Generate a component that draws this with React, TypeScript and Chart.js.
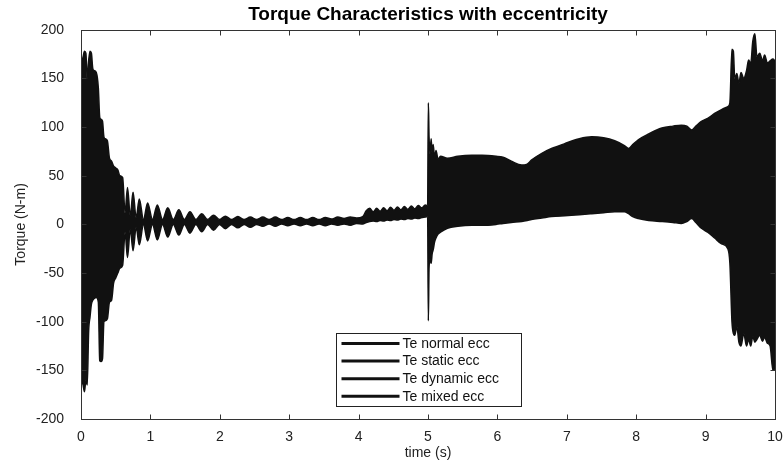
import React, { useEffect, useRef } from "react";
import { Chart, registerables } from "chart.js";

Chart.register(...registerables);

const chartTitle = "Torque Characteristics with eccentricity";
const xTitle = "time (s)";
const yTitle = "Torque (N-m)";
const seriesLabels = ["Te normal ecc", "Te static ecc", "Te dynamic ecc", "Te mixed ecc"];
const xTicks = [0, 1, 2, 3, 4, 5, 6, 7, 8, 9, 10];
const yTicks = [-200, -150, -100, -50, 0, 50, 100, 150, 200];

// time (s) of each envelope reading
const envTime = [
  // start-up transient
  0, 0.01, 0.03, 0.05, 0.07, 0.09, 0.11, 0.13, 0.15, 0.17, 0.19, 0.22, 0.25, 0.27, 0.29, 0.31, 0.33, 0.35, 0.38, 0.41, 0.44, 0.47, 0.5, 0.53, 0.56,
  // decaying beats
  0.6, 0.635, 0.67, 0.71, 0.75, 0.795, 0.84, 0.9, 0.96, 1.03, 1.1, 1.175, 1.25, 1.33, 1.41, 1.49, 1.57, 1.655, 1.74, 1.825, 1.91, 1.995, 2.08, 2.17, 2.26, 2.35, 2.44, 2.53,
  // steady state
  2.62, 2.71, 2.8, 2.89, 2.98, 3.07, 3.16, 3.25, 3.34, 3.43, 3.52, 3.61, 3.7, 3.79, 3.88, 3.97, 4.06,
  // small load step
  4.11, 4.16, 4.21, 4.26, 4.31, 4.36, 4.41, 4.46, 4.51, 4.56, 4.61, 4.66, 4.71, 4.76, 4.81, 4.86, 4.91, 4.96, 4.995,
  // eccentricity applied at 5 s
  5.005, 5.015, 5.03, 5.045, 5.06, 5.075, 5.095, 5.115, 5.145,
  // wide band
  5.18, 5.28, 5.43, 5.63, 5.78, 5.98, 6.08, 6.2, 6.35, 6.43, 6.49, 6.64, 6.78, 6.97, 7.18, 7.36, 7.53, 7.69, 7.83, 7.89, 7.95, 8.03, 8.18, 8.37, 8.53, 8.65, 8.73, 8.8, 8.86, 8.94, 9.03, 9.13, 9.23, 9.32,
  // final burst
  9.35, 9.38, 9.4, 9.42, 9.45, 9.48, 9.51, 9.55, 9.59, 9.62, 9.65, 9.68, 9.71, 9.74, 9.78, 9.82, 9.85, 9.89, 9.93, 9.97, 10,
];

// upper envelope of the torque traces (N-m)
const envUpper = [
  0, 150, 172, 178, 176, 150, 168, 178, 176, 160, 158, 156, 140, 110, 108, 106, 90, 88, 86, 68, 65, 60, 58, 56, 50,
  48, 12, 38, 9, 33, 7, 26, 5, 22, 5, 20, 5, 17, 5, 15, 5, 13, 5, 11, 5, 9.5, 5, 8.5, 5, 8, 5, 7.5, 5,
  7.5, 5, 7.5, 5, 7, 5, 7, 5, 7, 5, 7, 5.5, 7.5, 6, 7.5, 6.5, 8,
  14, 16.5, 13, 16.5, 13.5, 17, 14, 17.5, 14.5, 18, 15, 18.5, 15.5, 19, 16, 19.5, 17, 20, 19,
  125, 90, 72, 88, 73, 82, 68, 76, 67,
  70, 68, 70, 71, 71, 70, 69, 65, 61, 62, 66, 73, 78, 83, 88, 90, 89, 86, 81, 78, 82, 87, 93, 99, 101, 102, 101, 97, 101, 106, 109, 114, 118, 121,
  125, 180, 178, 150, 155, 145, 156, 150, 158, 169, 165, 188, 196, 172, 176, 168, 174, 166, 168, 170, 168,
];

// lower envelope of the torque traces (N-m)
const envLower = [
  0, -140, -165, -172, -160, -165, -110, -95, -82, -78, -76, -75, -80, -140, -141, -138, -100, -99, -97, -80, -78, -60, -55, -50, -45,
  -42, -8, -34, -5, -27, -3, -21, 0, -17, 0, -16, 0, -13, 0, -11, 0, -9, 0, -7.5, 0, -6, 0, -4.5, 0, -3.5, 0, -3, 0,
  -2, 0.5, -2, 0.5, -1.5, 0.5, -1.5, 0.5, -1.5, 0.5, -1.5, 0.5, -1, 0.5, -1, 1, 0.5,
  2, 3, 3.5, 3, 4, 3.5, 4.5, 4, 5, 4.5, 5.5, 5, 6, 5.5, 6.5, 6, 7, 7.5, 8,
  -99, -45, -36, -40, -30, -26, -18, -14, -10,
  -8, -4, -2, -1, -1, 0, 1, 2, 3, 4, 5, 6.5, 8, 9, 10, 11, 12, 13, 13, 11, 8, 6, 4, 3, 2, 1, 3, 6, 2, -4, -8, -14, -20, -25,
  -40, -100, -112, -114, -105, -121, -125, -112, -125, -118, -125, -115, -121, -118, -114, -120, -116, -122, -125, -150, -148,
];

const FONT = "'Liberation Sans', Arial, Helvetica, sans-serif";
const INK = "#111111";

const framePlugin = {
  id: "matlabFrame",
  afterDraw(chart: any) {
    const { ctx, chartArea: a, scales } = chart;
    const xs = scales.x;
    const ys = scales.y;
    ctx.save();
    ctx.strokeStyle = "#333";
    ctx.lineWidth = 1;
    const l = Math.round(a.left) + 0.5;
    const r = Math.round(a.right) + 0.5;
    const t = Math.round(a.top) + 0.5;
    const b = Math.round(a.bottom) + 0.5;
    ctx.strokeRect(l, t, r - l, b - t);
    const L = 5;
    ctx.beginPath();
    xTicks.forEach((v) => {
      const px = Math.round(xs.getPixelForValue(v)) + 0.5;
      ctx.moveTo(px, b);
      ctx.lineTo(px, b - L);
      ctx.moveTo(px, t);
      ctx.lineTo(px, t + L);
    });
    yTicks.forEach((v) => {
      const py = Math.round(ys.getPixelForValue(v)) + 0.5;
      ctx.moveTo(l, py);
      ctx.lineTo(l + L, py);
      ctx.moveTo(r, py);
      ctx.lineTo(r - L, py);
    });
    ctx.stroke();

    // legend box
    const bx = 336.5, by = 333.5, bw = 185, bh = 73;
    ctx.fillStyle = "#fff";
    ctx.fillRect(bx, by, bw, bh);
    ctx.strokeStyle = "#222";
    ctx.lineWidth = 1;
    ctx.strokeRect(bx, by, bw, bh);
    ctx.font = `14px ${FONT}`;
    ctx.textBaseline = "middle";
    ctx.textAlign = "left";
    seriesLabels.forEach((lab, i) => {
      const yy = by + 10 + i * 17.6;
      ctx.strokeStyle = INK;
      ctx.lineWidth = 3;
      ctx.beginPath();
      ctx.moveTo(bx + 5, yy);
      ctx.lineTo(bx + 63, yy);
      ctx.stroke();
      ctx.fillStyle = INK;
      ctx.fillText(lab, bx + 66, yy + 0.5);
    });
    ctx.restore();
  },
};

export default function App() {
  const ref = useRef<HTMLCanvasElement | null>(null);

  useEffect(() => {
    if (!ref.current) return;
    const upperPts = envTime.map((t, i) => ({ x: t, y: envUpper[i] }));
    const lowerPts = envTime.map((t, i) => ({ x: t, y: envLower[i] }));
    const tickFont = { family: FONT, size: 14 };
    const titleFont = { family: FONT, size: 14 };
    const chart = new Chart(ref.current, {
      type: "line",
      data: {
        datasets: [
          {
            label: seriesLabels[0],
            data: upperPts,
            borderColor: INK,
            backgroundColor: INK,
            borderWidth: 1.5,
            pointRadius: 0,
            fill: "+1",
            cubicInterpolationMode: "monotone",
          },
          {
            label: seriesLabels[3],
            data: lowerPts,
            borderColor: INK,
            backgroundColor: INK,
            borderWidth: 1.5,
            pointRadius: 0,
            fill: false,
            cubicInterpolationMode: "monotone",
          },
        ],
      },
      options: {
        responsive: false,
        animation: false,
        devicePixelRatio: 1,
        parsing: false as any,
        normalized: true,
        events: [],
        layout: { padding: { left: 0, right: 0, top: 0, bottom: 0 } },
        plugins: {
          legend: { display: false },
          tooltip: { enabled: false },
          title: {
            display: true,
            text: chartTitle,
            fullSize: false,
            color: "#000",
            font: { family: FONT, size: 19, weight: "bold" },
            padding: { top: 3, bottom: 4 },
          },
        },
        scales: {
          x: {
            type: "linear",
            min: 0,
            max: 10,
            grid: { display: false, drawTicks: false },
            border: { display: false },
            afterBuildTicks: (s: any) => {
              s.ticks = xTicks.map((v) => ({ value: v }));
            },
            afterFit: (s: any) => {
              s.height = 46;
              s.paddingRight = 8;
              s.paddingLeft = 0;
            },
            ticks: { font: tickFont, color: "#222", padding: 10, maxRotation: 0, autoSkip: false },
            title: { display: true, text: xTitle, font: titleFont, color: "#222", padding: { top: 0, bottom: 3 } },
          },
          y: {
            type: "linear",
            min: -200,
            max: 200,
            grid: { display: false, drawTicks: false },
            border: { display: false },
            afterBuildTicks: (s: any) => {
              s.ticks = yTicks.map((v) => ({ value: v }));
            },
            afterFit: (s: any) => {
              s.width = 81;
            },
            ticks: { font: tickFont, color: "#222", padding: 17, autoSkip: false },
            title: { display: true, text: yTitle, font: titleFont, color: "#222", padding: { top: 13, bottom: 0 } },
          },
        },
      },
      plugins: [framePlugin],
    } as any);
    return () => chart.destroy();
  }, []);

  return (
    <div style={{ position: "absolute", left: 0, top: 0, width: 783, height: 465, background: "#fff" }}>
      <canvas ref={ref} width={783} height={465} />
    </div>
  );
}
